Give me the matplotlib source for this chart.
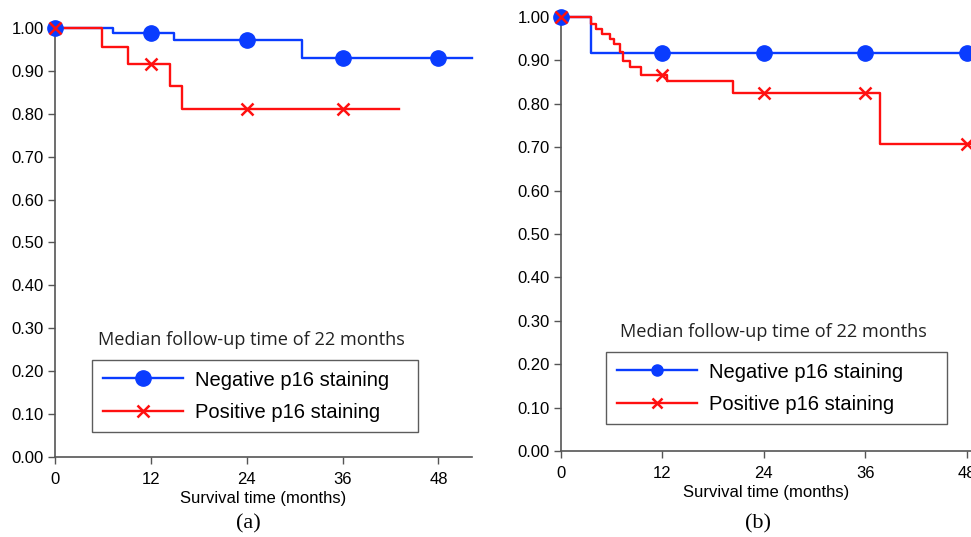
import matplotlib
matplotlib.use('Agg')
import matplotlib.pyplot as plt
from matplotlib.lines import Line2D
import numpy as np

plt.rcParams['font.family'] = ['Liberation Sans', 'DejaVu Sans']

# panel (a): Kaplan-Meier steps
a_neg_t = [0, 7.3, 14.9, 30.9]
a_neg_s = [1.00, 0.988, 0.972, 0.931]
a_neg_end = 52.2
a_pos_t = [0, 5.9, 9.1, 14.4, 15.9]
a_pos_s = [1.00, 0.956, 0.916, 0.865, 0.811]
a_pos_end = 43.1
a_neg_marks = [0, 12, 24, 36, 48]
a_pos_marks = [0, 12, 24, 36]

# panel (b)
b_neg_t = [0, 3.5]
b_neg_s = [1.00, 0.918]
b_neg_end = 48.5
b_pos_t = [0, 3.6, 4.1, 4.8, 5.8, 6.3, 7.0, 7.3, 8.2, 9.5, 12.5, 20.3, 37.7]
b_pos_s = [1.00, 0.985, 0.973, 0.961, 0.949, 0.937, 0.920, 0.898, 0.885, 0.867, 0.852, 0.825, 0.707]
b_pos_end = 48.5
b_neg_marks = [0, 12, 24, 36, 48]
b_pos_marks = [0, 12, 24, 36, 48]

x_ticks = [0, 12, 24, 36, 48]
y_ticks = np.arange(0, 1.01, 0.1)
legend_labels = ['Negative p16 staining', 'Positive p16 staining']
legend_title = 'Median follow-up time of 22 months'

BLUE = '#0a3cff'
RED = '#ff1010'
SPINE = '#555555'


def surv_at(times, surv, t):
    idx = np.searchsorted(times, t, side='right') - 1
    return np.array(surv)[idx]


def draw_curve(ax, t, s, end, marks, color, marker, ms, mew):
    tt = list(t) + [end]
    ss = list(s) + [s[-1]]
    ax.step(tt, ss, where='post', color=color, lw=1.7, clip_on=False, zorder=3)
    mx = np.array(marks)
    my = surv_at(t, s, mx)
    ax.plot(mx, my, ls='none', marker=marker, ms=ms, color=color,
            mew=mew, clip_on=False, zorder=4)


def style_axes(ax, xmax):
    ax.set_xlim(0, xmax)
    ax.set_ylim(0, 1.0)
    ax.set_xticks(x_ticks)
    ax.set_yticks(y_ticks)
    ax.set_yticklabels([f'{v:.2f}' for v in y_ticks])
    for side in ['top', 'right']:
        ax.spines[side].set_visible(False)
    for side in ['left', 'bottom']:
        ax.spines[side].set_color(SPINE)
        ax.spines[side].set_linewidth(1.2)
    ax.tick_params(direction='out', length=5, width=1, color=SPINE,
                   labelsize=12)
    ax.tick_params(axis='y', pad=3)
    ax.tick_params(axis='x', pad=6)
    ax.set_xlabel('Survival time (months)', fontsize=12, labelpad=3)


def add_legend(ax, handles, x0, y_top, width):
    leg = ax.legend(handles, legend_labels, loc='upper left',
                    bbox_to_anchor=(x0, y_top - 0.2, width, 0.2), mode='expand',
                    fontsize=14.5, frameon=True, fancybox=False, handlelength=4,
                    handletextpad=0.6, borderpad=0.52, labelspacing=0.65,
                    borderaxespad=0)
    leg.get_frame().set_edgecolor('#333333')
    leg.get_frame().set_linewidth(1.0)
    return leg


fig = plt.figure(figsize=(9.71, 5.37), dpi=100)

# ---- panel (a)
ax1 = fig.add_axes([55 / 971, 80 / 537, 417 / 971, 429 / 537])
draw_curve(ax1, a_neg_t, a_neg_s, a_neg_end, a_neg_marks, BLUE, 'o', 11, 1)
draw_curve(ax1, a_pos_t, a_pos_s, a_pos_end, a_pos_marks, RED, 'x', 8, 1.8)
style_axes(ax1, a_neg_end)
h1 = [Line2D([], [], color=BLUE, lw=1.7, marker='o', ms=11),
      Line2D([], [], color=RED, lw=1.7, marker='x', ms=8, mew=1.8)]
add_legend(ax1, h1, 0.089, 0.226, 0.782)
ax1.text(0.472, 0.273, legend_title, transform=ax1.transAxes, ha='center',
         va='center', fontsize=13.1, family=['Open Sans', 'DejaVu Sans'], color='#222222')

# ---- panel (b)
ax2 = fig.add_axes([561 / 971, 86 / 537, 410 / 971, 434 / 537])
draw_curve(ax2, b_neg_t, b_neg_s, b_neg_end, b_neg_marks, BLUE, 'o', 11, 1)
draw_curve(ax2, b_pos_t, b_pos_s, b_pos_end, b_pos_marks, RED, 'x', 8, 1.8)
style_axes(ax2, b_neg_end)
h2 = [Line2D([], [], color=BLUE, lw=1.7, marker='o', ms=8),
      Line2D([], [], color=RED, lw=1.7, marker='x', ms=7, mew=1.8)]
add_legend(ax2, h2, 0.110, 0.228, 0.832)
ax2.text(0.517, 0.274, legend_title, transform=ax2.transAxes, ha='center',
         va='center', fontsize=13.1, family=['Open Sans', 'DejaVu Sans'], color='#222222')

# sub-figure captions
fig.text(248 / 971, 1 - 524 / 537, '(a)', ha='center', va='center',
         fontsize=16, family='Liberation Serif')
fig.text(758 / 971, 1 - 524 / 537, '(b)', ha='center', va='center',
         fontsize=16, family='Liberation Serif')

fig.savefig('out.png', dpi=100)
